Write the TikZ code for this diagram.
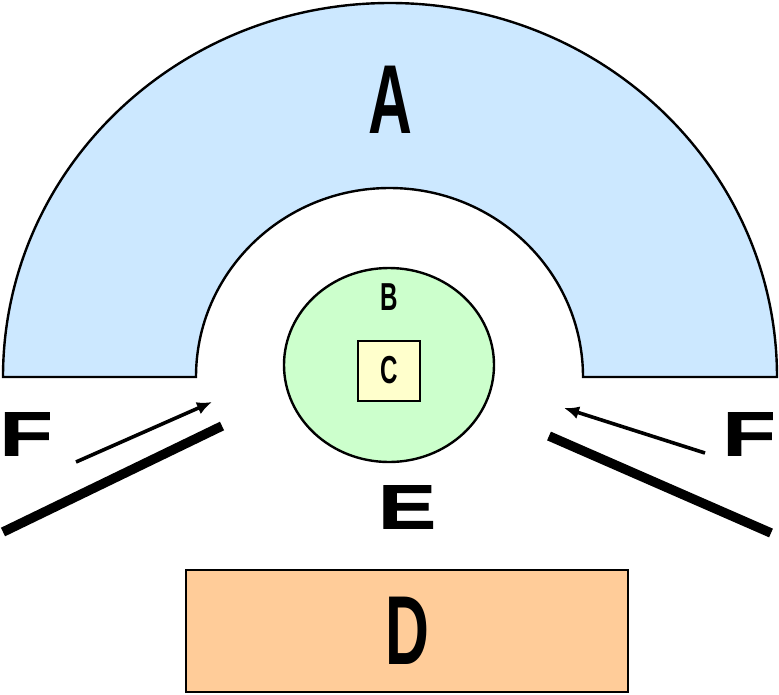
\documentclass[tikz,border=0pt]{standalone}
\usepackage{fontspec}
\usetikzlibrary{arrows.meta, positioning}
\newfontfamily\gothicfont[FakeStretch=0.62]{Liberation Sans}
\newfontfamily\heavyfont[FakeStretch=1.4, FakeBold=1.5]{Liberation Sans}
\definecolor{celeste}{RGB}{204,232,255}
\definecolor{verdino}{RGB}{204,255,204}
\definecolor{giallino}{RGB}{255,255,204}
\definecolor{pesca}{RGB}{255,204,153}

\begin{document}
\begin{tikzpicture}[
  x=1pt, y=-1pt,
  bordo/.style={draw=black, line width=2.4pt},
  lettera/.style={inner sep=0pt, font=\gothicfont\bfseries\fontsize{98}{98}\selectfont},
  letterina/.style={inner sep=0pt, font=\gothicfont\bfseries\fontsize{39}{39}\selectfont},
  lettergrassa/.style={inner sep=0pt, font=\heavyfont\bfseries\fontsize{62}{62}\selectfont},
  freccia/.style={draw=black, line width=3.6pt, -{Latex[length=15pt,width=13pt]}},
  sbarra/.style={draw=black, line width=9.5pt}
]
\useasboundingbox (0,0) rectangle (779,694);

% ---- semianello A ---------------------------------------------------
\draw[bordo, fill=celeste] (3,377)
  arc[start angle=180, end angle=360, x radius=387, y radius=374]
  -- (583,377)
  arc[start angle=0, end angle=-180, x radius=193.5, y radius=189]
  -- cycle;
\node[lettera] (A) at (390,100) {A};

% ---- ellisse B e quadrato C -------------------------------------------
\draw[bordo, fill=verdino] (389,365) ellipse[x radius=105, y radius=97];
\node[letterina] (B) at (389,297) {B};
\draw[bordo, fill=giallino] (358,341) rectangle (420,401);
\node[letterina] (C) at (389,370) {C};

% ---- E, F -------------------------------------------------------------
\node[lettergrassa] (E) at (407,507) {E};
\node[lettergrassa] (Fs) at (26,434) {F};
\node[lettergrassa] (Fd) at (749,434) {F};

% ---- frecce e sbarre --------------------------------------------------
\coordinate (fs1) at (76,462);
\coordinate (fs2) at (212,402);
\coordinate (fd1) at (705,453);
\coordinate (fd2) at (564,408);
\draw[freccia] (fs1) -- (fs2);
\draw[freccia] (fd1) -- (fd2);
\draw[sbarra] (3,532) -- (222,426);
\draw[sbarra] (549,436) -- (771,533);

% ---- rettangolo D -----------------------------------------------------
\draw[bordo, fill=pesca] (186,570) rectangle (628,692);
\node[lettera] (D) at (407,631) {D};

\end{tikzpicture}
\end{document}
